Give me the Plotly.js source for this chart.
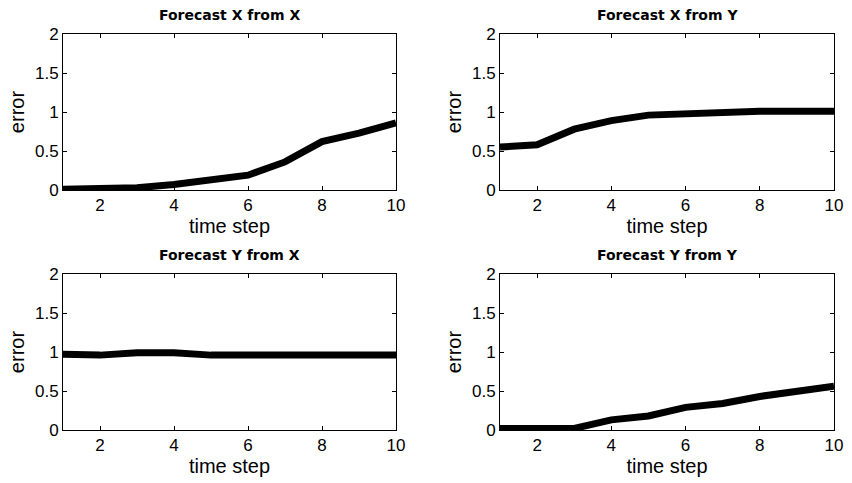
<!DOCTYPE html>
<html>
<head>
<meta charset="utf-8">
<script src="https://cdn.plot.ly/plotly-3.0.1.min.js"></script>
<style>html,body{margin:0;padding:0;background:#fff;}#chart{width:852px;height:483px;}</style>
</head>
<body>
<div id="chart"></div>
<script>
const timeSteps = [1, 2, 3, 4, 5, 6, 7, 8, 9, 10];
const xFromX = [0.01, 0.02, 0.03, 0.07, 0.12, 0.19, 0.36, 0.62, 0.73, 0.86];
const xFromY = [0.55, 0.58, 0.78, 0.89, 0.96, 0.98, 1.0, 1.01, 1.01, 1.01];
const yFromX = [0.97, 0.96, 0.99, 0.99, 0.96, 0.96, 0.96, 0.96, 0.96, 0.96];
const yFromY = [0.02, 0.02, 0.02, 0.13, 0.18, 0.29, 0.34, 0.43, 0.49, 0.56];
const panelTitles = ['Forecast X from X', 'Forecast X from Y', 'Forecast Y from X', 'Forecast Y from Y'];
const xTickVals = [2, 4, 6, 8, 10];
const yTickVals = [0, 0.5, 1, 1.5, 2];
const yTickText = ['0', '0.5', '1', '1.5', '2'];

const series = [xFromX, xFromY, yFromX, yFromY];
const axisIds = [['x', 'y'], ['x2', 'y2'], ['x3', 'y3'], ['x4', 'y4']];

const traces = series.map((s, i) => ({
  x: timeSteps, y: s, type: 'scatter', mode: 'lines',
  xaxis: axisIds[i][0], yaxis: axisIds[i][1],
  line: {color: '#000', width: 7}, showlegend: false, hoverinfo: 'skip'
}));

const W = 852, H = 483;
const xd = [[63 / W, 396 / W], [500 / W, 834 / W]];
const yd = [[1 - 190 / H, 1 - 34 / H], [1 - 430 / H, 1 - 274 / H]];
const font = 'Liberation Sans, Arial, sans-serif';

function xa(dom, anchor) {
  return {
    domain: dom, anchor: anchor, range: [1, 10], tickvals: xTickVals,
    ticks: 'inside', ticklen: 4, tickcolor: '#000', mirror: 'ticks',
    showline: true, linecolor: '#000', linewidth: 1, showgrid: false, zeroline: false,
    tickfont: {family: font, size: 17, color: '#000'},
    title: {text: 'time step', font: {family: font, size: 20, color: '#000'}, standoff: 2}
  };
}
function ya(dom, anchor) {
  return {
    domain: dom, anchor: anchor, range: [0, 2], tickvals: yTickVals, ticktext: yTickText,
    ticks: 'inside', ticklen: 4, tickcolor: '#000', mirror: 'ticks',
    showline: true, linecolor: '#000', linewidth: 1, showgrid: false, zeroline: false,
    tickfont: {family: font, size: 17, color: '#000'},
    title: {text: 'error', font: {family: font, size: 20, color: '#000'}, standoff: 4}
  };
}

const layout = {
  width: W, height: H, margin: {l: 0, r: 0, t: 0, b: 0},
  paper_bgcolor: '#fff', plot_bgcolor: '#fff',
  xaxis: xa(xd[0], 'y'), yaxis: ya(yd[0], 'x'),
  xaxis2: xa(xd[1], 'y2'), yaxis2: ya(yd[0], 'x2'),
  xaxis3: xa(xd[0], 'y3'), yaxis3: ya(yd[1], 'x3'),
  xaxis4: xa(xd[1], 'y4'), yaxis4: ya(yd[1], 'x4'),
  annotations: panelTitles.map((t, i) => {
    const c = i % 2, r = Math.floor(i / 2);
    return {
      text: '<b>' + t + '</b>', xref: 'paper', yref: 'paper',
      x: (xd[c][0] + xd[c][1]) / 2, y: yd[r][1] + 9 / H,
      xanchor: 'center', yanchor: 'bottom', showarrow: false,
      font: {family: 'DejaVu Sans, sans-serif', size: 14, color: '#000'}
    };
  })
};

Plotly.newPlot('chart', traces, layout, {staticPlot: true});
</script>
</body>
</html>
